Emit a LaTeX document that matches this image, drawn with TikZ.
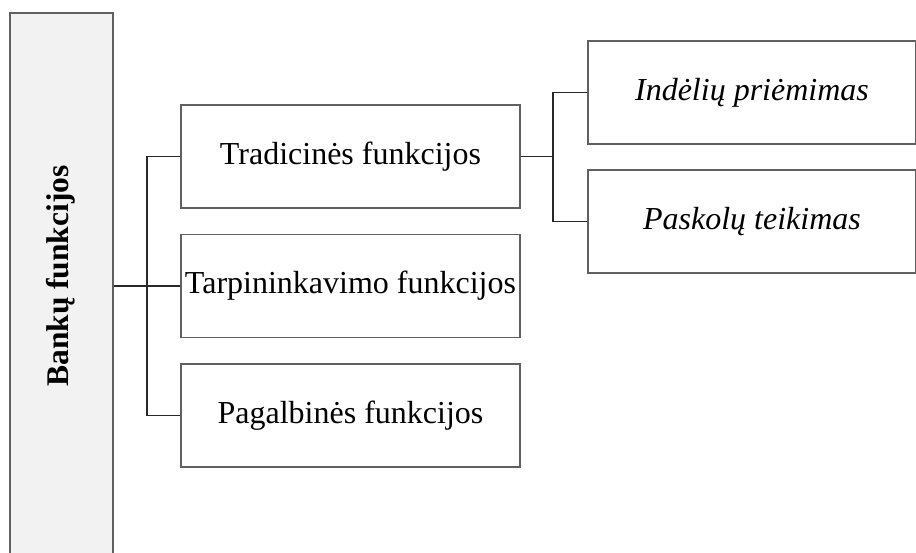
\documentclass[tikz,border=0pt]{standalone}
\usepackage{fontspec}
\setmainfont{Liberation Serif}
\usepackage{tikz}
\usetikzlibrary{calc,positioning}
\definecolor{remasPilkas}{RGB}{96,96,96}
\definecolor{fonasPilkas}{RGB}{242,242,242}
\definecolor{linijaJuoda}{RGB}{40,40,40}

\tikzset{
  dezute/.style={draw=remasPilkas,line width=0.75pt,fill=white,
                 minimum width=169.5pt,minimum height=51.5pt,inner sep=0pt,
                 font=\fontsize{16}{19}\selectfont},
  desine/.style={dezute,minimum width=164pt,
                 font=\fontsize{16}{19}\selectfont\itshape},
  jungtis/.style={draw=linijaJuoda,line width=0.6pt}
}

\begin{document}
\begin{tikzpicture}[x=0.5pt,y=-0.5pt]

    \clip (0,0) rectangle (916,552);
    \fill[white] (0,0) rectangle (916,552);

    % ── BANKU FUNKCIJOS ─────────────────────────────────
    \node[draw=remasPilkas,fill=fonasPilkas,line width=0.75pt,
          minimum width=51.5pt,minimum height=280pt,inner sep=0pt]
          (bankas) at (61.5,293){};
    \node[rotate=90,font=\fontsize{15.75}{19}\selectfont\bfseries]
          (bankasTxt) at (61,276){Bankų funkcijos};

    % ── VIDURINE EILE ───────────────────────────────────
    \node[dezute] (tradic) at (350.5,156.5){Tradicinės funkcijos};
    \node[dezute] (tarpin) at (350.5,286){Tarpininkavimo funkcijos};
    \node[dezute] (pagalb) at (350.5,415.5){Pagalbinės funkcijos};

    % ── DESINE EILE ─────────────────────────────────────
    \node[desine] (indel) at (752,92.5){Indėlių priėmimas};
    \node[desine] (paskol) at (752,221.5){Paskolų teikimas};

    % Jungtys
    \coordinate (sakaA) at (147,0);
    \coordinate (sakaB) at (553,0);
    \draw[jungtis] (tarpin.west) -- (tarpin.west -| bankas.east);
    \draw[jungtis] (tradic.west) -- (tradic.west -| sakaA)
                   -- (pagalb.west -| sakaA) -- (pagalb.west);
    \draw[jungtis] (tradic.east) -- (tradic.east -| sakaB);
    \draw[jungtis] (indel.west) -- (indel.west -| sakaB)
                   -- (paskol.west -| sakaB) -- (paskol.west);

  \end{tikzpicture}
\end{document}
